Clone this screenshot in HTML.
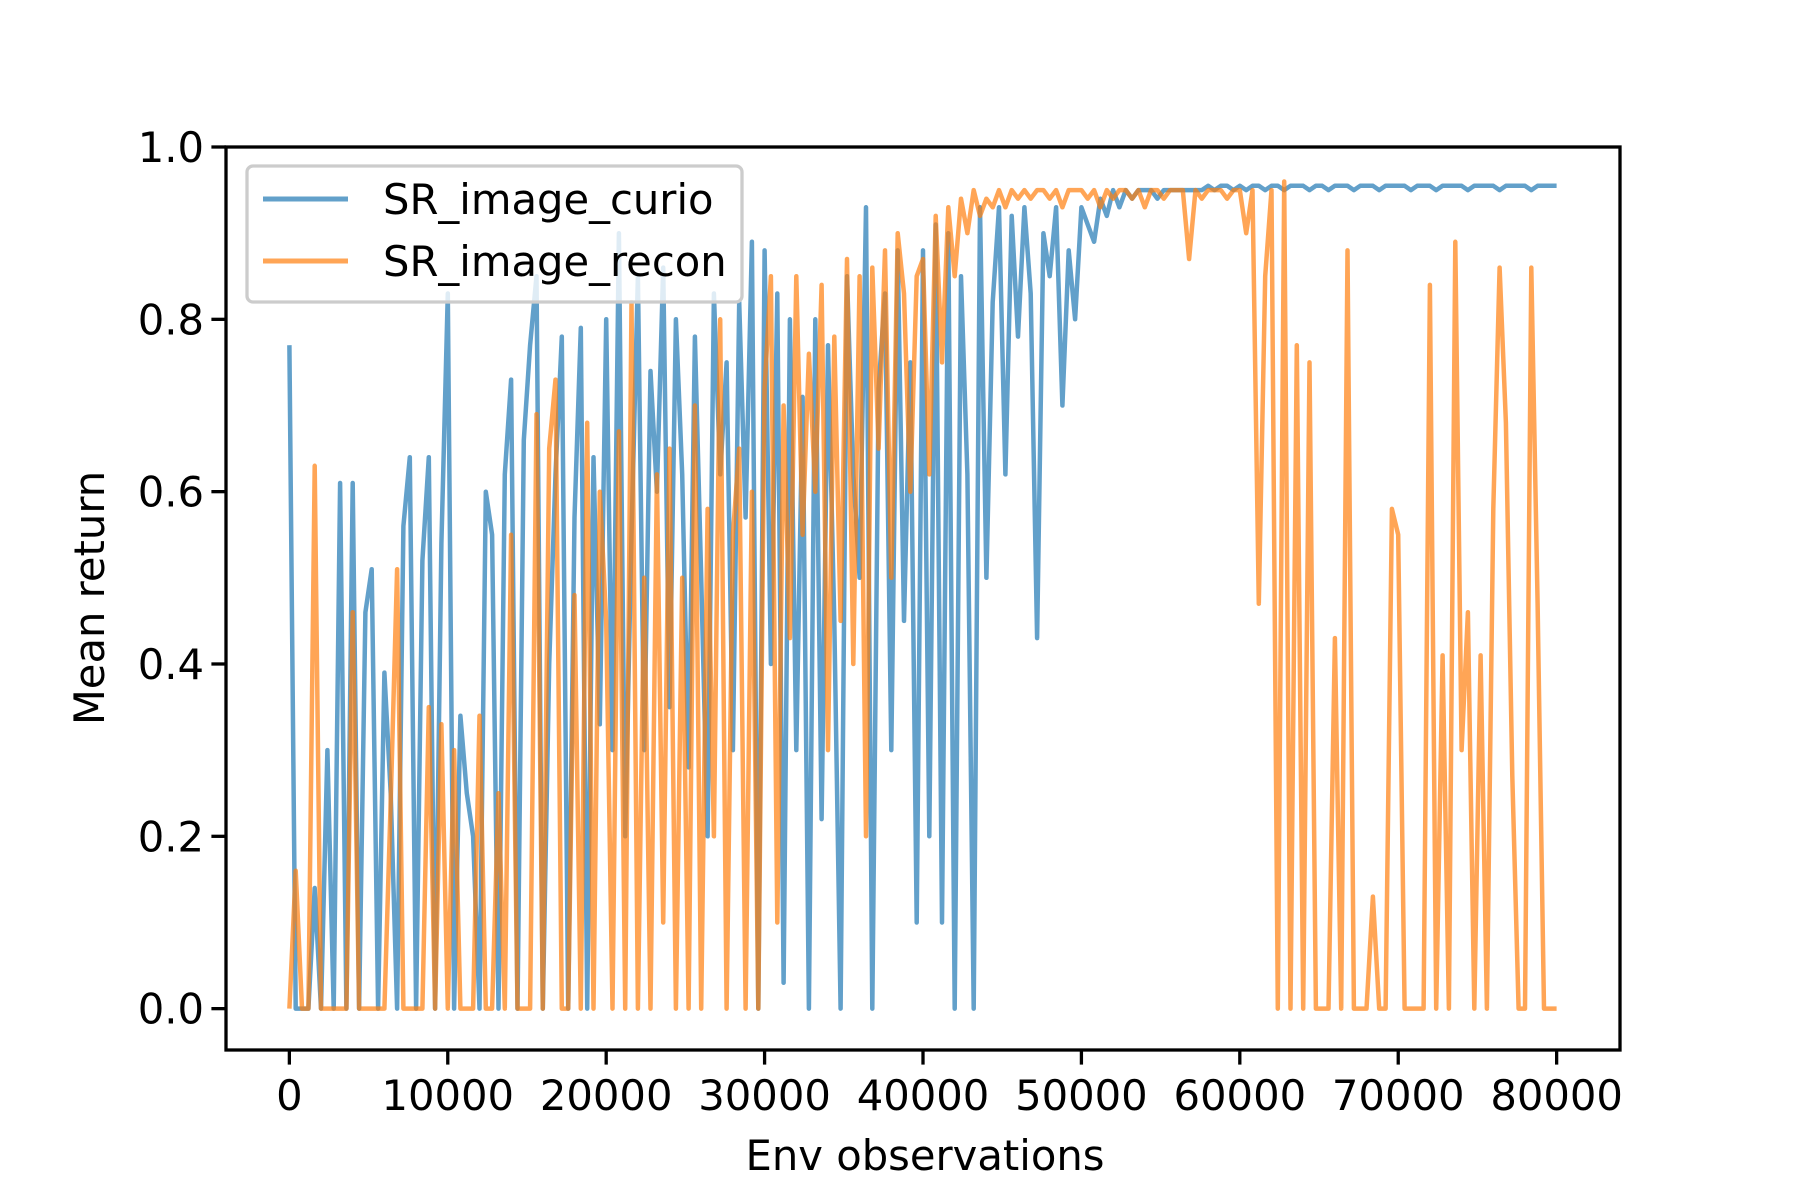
<!DOCTYPE html>
<html><head><meta charset="utf-8"><style>
html,body{margin:0;padding:0;background:#fff;}
svg{display:block;font-family:"DejaVu Sans","Liberation Sans",sans-serif;}
</style></head><body>
<svg id="chart" width="1800" height="1200" viewBox="0 0 1800 1200" xmlns="http://www.w3.org/2000/svg">
<rect x="0" y="0" width="1800" height="1200" fill="#fff"/>
<g id="plot"></g>
<g id="axes"></g>
<text x="925" y="1170" font-size="41.7" text-anchor="middle">Env observations</text>
<text x="0" y="0" font-size="41.7" text-anchor="middle" transform="translate(104,598) rotate(-90)">Mean return</text>
<g>
<rect x="247" y="166" width="495" height="136" rx="6" fill="#fff" fill-opacity="0.8" stroke="#ccc" stroke-width="3.3"/>
<line x1="263" y1="199" x2="348" y2="199" stroke="#1f77b4" stroke-opacity="0.7" stroke-width="5"/>
<text x="383" y="214" font-size="41.7">SR_image_curio</text>
<line x1="263" y1="261" x2="348" y2="261" stroke="#ff7f0e" stroke-opacity="0.7" stroke-width="5"/>
<text x="383" y="276" font-size="41.7">SR_image_recon</text>
</g>
</svg>
<script>
const xStep = 400;
const curioValues = [0.77,0,0,0,0.14,0,0.3,0,0.61,0,0.61,0,0.46,0.51,0,0.39,0.25,0,0.56,0.64,0,0.52,0.64,0,0.54,
0.83,0,0.34,0.25,0.2,0,0.6,0.55,0,0.62,0.73,0,0.66,0.77,0.85,0,0.4,0.62,0.78,0,0.57,0.79,0,0.64,0.33,
0.8,0.3,0.9,0.2,0.55,0.85,0.3,0.74,0.6,0.86,0.35,0.8,0.62,0.28,0.78,0.5,0.2,0.83,0.62,0.75,0.3,0.82,0.57,0.89,0,
0.88,0.4,0.83,0.03,0.8,0.3,0.71,0,0.8,0.22,0.77,0.45,0,0.85,0.62,0.5,0.93,0,0.72,0.83,0.3,0.88,0.45,0.75,0.1,
0.88,0.2,0.91,0.1,0.9,0,0.85,0.62,0,0.93,0.5,0.82,0.93,0.62,0.92,0.78,0.93,0.83,0.43,0.9,0.85,0.93,0.7,0.88,0.8,
0.93,0.91,0.89,0.94,0.92,0.95,0.93,0.95,0.94,0.95,0.95,0.95,0.94,0.95,0.95,0.95,0.95,0.95,0.95,0.95,0.955,0.95,0.955,0.955,0.95,
0.955,0.95,0.955,0.955,0.95,0.955,0.955,0.95,0.955,0.955,0.955,0.95,0.955,0.955,0.95,0.955,0.955,0.955,0.95,0.955,0.955,0.955,0.95,0.955,0.955,
0.955,0.955,0.95,0.955,0.955,0.955,0.95,0.955,0.955,0.955,0.955,0.95,0.955,0.955,0.955,0.955,0.95,0.955,0.955,0.955,0.955,0.95,0.955,0.955,0.955,0.955];
const reconValues = [0,0.16,0,0,0.63,0,0,0,0,0,0.46,0,0,0,0,0,0.24,0.51,0,0,0,0,0.35,0,0.33,
0,0.3,0,0,0,0.34,0,0,0.25,0,0.55,0,0,0,0.69,0,0.65,0.73,0,0,0.48,0,0.68,0,0.6,
0.45,0,0.67,0,0.82,0,0.5,0,0.62,0.1,0.65,0,0.5,0,0.7,0,0.58,0.2,0.8,0,0.55,0.65,0,0.6,0,
0.72,0.85,0.1,0.7,0.43,0.85,0.55,0.76,0.6,0.84,0.3,0.78,0.45,0.87,0.4,0.85,0.2,0.86,0.65,0.88,0.5,0.9,0.83,0.6,0.85,
0.87,0.62,0.92,0.75,0.93,0.85,0.94,0.9,0.95,0.92,0.94,0.93,0.95,0.93,0.95,0.94,0.95,0.94,0.95,0.95,0.94,0.95,0.93,0.95,0.95,
0.95,0.94,0.95,0.93,0.95,0.94,0.95,0.95,0.94,0.95,0.93,0.95,0.95,0.94,0.95,0.95,0.95,0.87,0.95,0.94,0.95,0.95,0.95,0.94,0.95,
0.95,0.9,0.95,0.47,0.85,0.95,0,0.96,0,0.77,0,0.75,0,0,0,0.43,0,0.88,0,0,0,0.13,0,0,0.58,
0.55,0,0,0,0,0.84,0,0.41,0,0.89,0.3,0.46,0,0.41,0,0.58,0.86,0.68,0.27,0,0,0.86,0.47,0,0,0];
const xTicks = [0,10000,20000,30000,40000,50000,60000,70000,80000];
const yTicks = [0.0,0.2,0.4,0.6,0.8,1.0];
const yTickLabels = ["0.0","0.2","0.4","0.6","0.8","1.0"];

const NS = "http://www.w3.org/2000/svg";
const L = 226, R = 1620, T = 147, B = 1050;
const xMin = -4000, xMax = 84000, yMin = -0.048, yMax = 1.0;
function xs(v){ return L + (v - xMin) / (xMax - xMin) * (R - L); }
function ys(v){ return B - (v - yMin) / (yMax - yMin) * (B - T); }

const plot = document.getElementById('plot');
function drawSeries(vals, color, name){
  const p = document.createElementNS(NS, 'polyline');
  p.setAttribute('points', vals.map((v,i)=>xs(i*xStep).toFixed(1)+','+ys(v).toFixed(1)).join(' '));
  p.setAttribute('fill','none');
  p.setAttribute('stroke',color);
  p.setAttribute('stroke-opacity','0.7');
  p.setAttribute('stroke-width','4.5');
  p.setAttribute('stroke-linejoin','round');
  
  
  plot.appendChild(p);
}
drawSeries(curioValues, '#1f77b4', 'series-sr-image-curio');
drawSeries(reconValues, '#ff7f0e', 'series-sr-image-recon');

const axes = document.getElementById('axes');
const frame = document.createElementNS(NS,'rect');
frame.setAttribute('x',L); frame.setAttribute('y',T);
frame.setAttribute('width',R-L); frame.setAttribute('height',B-T);
frame.setAttribute('fill','none'); frame.setAttribute('stroke','#000'); frame.setAttribute('stroke-width','3.3');


axes.appendChild(frame);

xTicks.forEach(v=>{
  const x = xs(v);
  const t = document.createElementNS(NS,'line');
  t.setAttribute('x1',x); t.setAttribute('x2',x); t.setAttribute('y1',B); t.setAttribute('y2',B+14.6);
  t.setAttribute('stroke','#000'); t.setAttribute('stroke-width','3.3');
  
  
  axes.appendChild(t);
  const tx = document.createElementNS(NS,'text');
  tx.setAttribute('x',x); tx.setAttribute('y',B+60);
  tx.setAttribute('font-size','41.7'); tx.setAttribute('text-anchor','middle');
  tx.textContent = String(v);
  
  
  axes.appendChild(tx);
});
yTicks.forEach((v,i)=>{
  const y = ys(v);
  const t = document.createElementNS(NS,'line');
  t.setAttribute('x1',L-14.6); t.setAttribute('x2',L); t.setAttribute('y1',y); t.setAttribute('y2',y);
  t.setAttribute('stroke','#000'); t.setAttribute('stroke-width','3.3');
  
  
  axes.appendChild(t);
  const tx = document.createElementNS(NS,'text');
  tx.setAttribute('x',L-22); tx.setAttribute('y',y+15);
  tx.setAttribute('font-size','41.7'); tx.setAttribute('text-anchor','end');
  tx.textContent = yTickLabels[i];
  
  
  axes.appendChild(tx);
});
</script>
</body></html>
